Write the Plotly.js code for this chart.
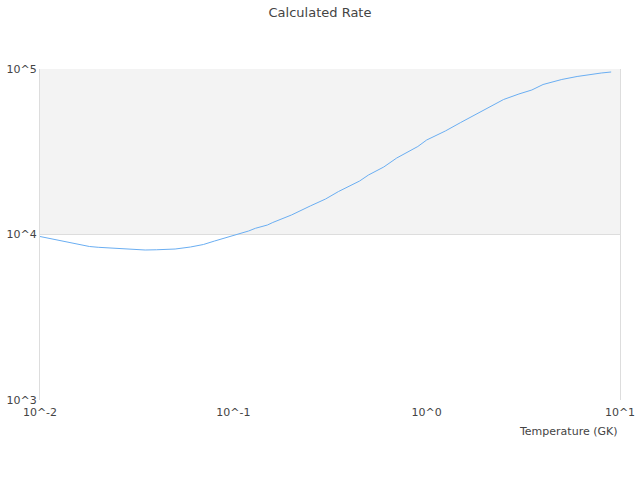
<!DOCTYPE html>
<html>
<head>
<meta charset="utf-8">
<script src="https://cdn.plot.ly/plotly-3.0.1.min.js"></script>
<style>html,body{margin:0;padding:0;background:#fff;}#chart{width:640px;height:480px;}</style>
</head>
<body>
<div id="chart"></div>
<script>
const temperatures = [0.01, 0.012, 0.014, 0.016, 0.018, 0.02, 0.025, 0.03, 0.035, 0.04, 0.045, 0.05, 0.06, 0.07, 0.08, 0.09, 0.1, 0.11, 0.12, 0.13, 0.14, 0.15, 0.16, 0.18, 0.2, 0.25, 0.3, 0.35, 0.4, 0.45, 0.5, 0.6, 0.7, 0.8, 0.9, 1.0, 1.25, 1.5, 1.75, 2.0, 2.5, 3.0, 3.5, 4.0, 5.0, 6.0, 7.0, 8.0, 9.0];
const rates = [9725, 9342, 9010, 8700, 8463, 8370, 8230, 8117, 8060, 8085, 8140, 8170, 8403, 8700, 9135, 9526, 9862, 10140, 10500, 10900, 11170, 11410, 11820, 12500, 13120, 14870, 16390, 18190, 19640, 21050, 22880, 25580, 28990, 31510, 34020, 37240, 42220, 47510, 52360, 57330, 65430, 70630, 74690, 80600, 86440, 90100, 92640, 94580, 95920];
const xTickVals = [0.01, 0.1, 1, 10];
const xTickText = ["10^-2", "10^-1", "10^0", "10^1"];
const yTickVals = [1000, 10000, 100000];
const yTickText = ["10^3", "10^4", "10^5"];
const bandRange = [10000, 100000];

const trace = {
  x: temperatures, y: rates, type: 'scatter', mode: 'lines',
  line: {color: '#6aaef2', width: 1}, hoverinfo: 'skip', showlegend: false
};
const layout = {
  width: 640, height: 480,
  margin: {l: 40, r: 20, t: 69, b: 80},
  paper_bgcolor: '#fff', plot_bgcolor: '#fff',
  font: {family: 'DejaVu Sans, sans-serif', size: 11, color: '#444'},
  title: {text: 'Calculated Rate', font: {size: 13, color: '#444'}, x: 0.5, xanchor: 'center', y: 0.975, yanchor: 'middle'},
  xaxis: {
    type: 'log', range: [-2, 1], tickvals: xTickVals, ticktext: xTickText,
    showgrid: false, zeroline: false, showline: false, ticks: '', ticklabelstandoff: 4
  },
  yaxis: {
    type: 'log', range: [3, 5], tickvals: yTickVals, ticktext: yTickText,
    showgrid: true, gridcolor: '#dddddd', gridwidth: 1, zeroline: false,
    showline: true, mirror: true, linecolor: '#dddddd', linewidth: 1, ticks: ''
  },
  shapes: [{
    type: 'rect', xref: 'paper', x0: 0, x1: 1, yref: 'y', y0: bandRange[0], y1: bandRange[1],
    fillcolor: '#f3f3f3', line: {width: 0}, layer: 'below'
  }],
  annotations: [{
    text: 'Temperature (GK)', xref: 'paper', yref: 'paper', x: 1, y: 0, xanchor: 'right', yanchor: 'middle',
    yshift: -31, xshift: 0, showarrow: false, font: {size: 11, color: '#444'}
  }]
};
Plotly.newPlot('chart', [trace], layout, {displayModeBar: false, staticPlot: true});
</script>
</body>
</html>
